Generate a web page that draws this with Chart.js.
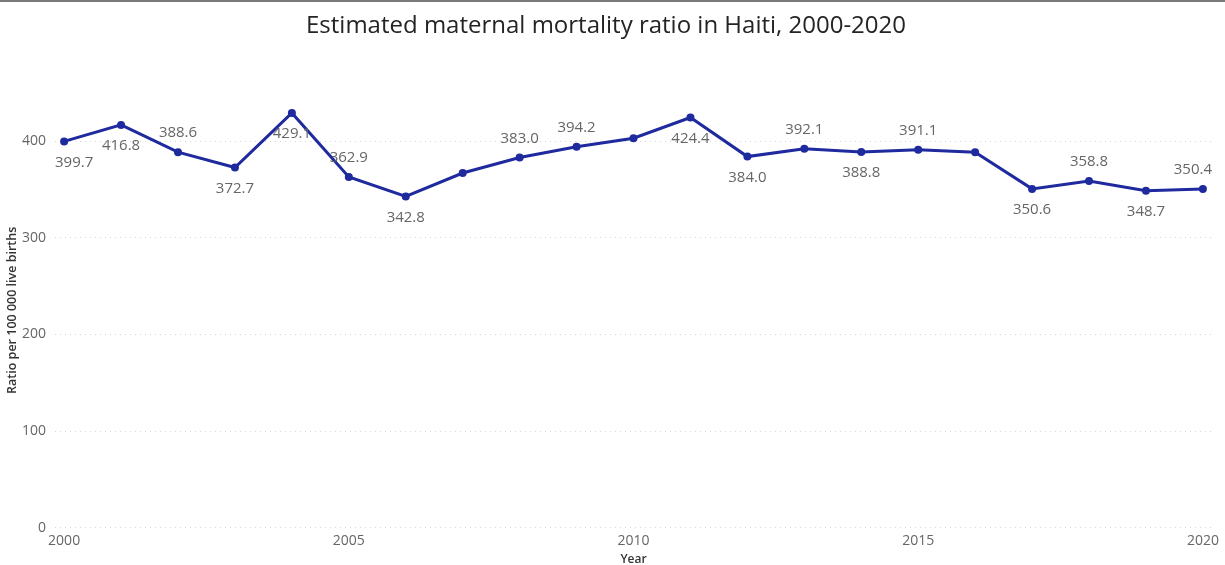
<!DOCTYPE html>
<html>
<head>
<meta charset="utf-8">
<script src="https://cdn.jsdelivr.net/npm/chart.js@4"></script>
<style>
  html, body { margin: 0; padding: 0; background: #fff; }
  #wrap { width: 1225px; height: 565px; position: relative; }
</style>
</head>
<body>
<div id="wrap"><canvas id="mmrChart"></canvas></div>
<script>
  // Data
  const years = [2000, 2001, 2002, 2003, 2004, 2005, 2006, 2007, 2008, 2009, 2010,
                 2011, 2012, 2013, 2014, 2015, 2016, 2017, 2018, 2019, 2020];
  const ratios = [399.7, 416.8, 388.6, 372.7, 429.1, 362.9, 342.8, 367.0, 383.0, 394.2, 403.0,
                  424.4, 384.0, 392.1, 388.8, 391.1, 388.4, 350.6, 358.8, 348.7, 350.4];
  // where each value label sits: 'above', 'below' or null (hidden)
  const labelPos = ['below', 'below', 'above', 'below', 'below', 'above', 'below', null, 'above', 'above', null,
                    'below', 'below', 'above', 'below', 'above', null, 'below', 'above', 'below', 'above'];
  const xTicks = [2000, 2005, 2010, 2015, 2020];
  const yTicks = [0, 100, 200, 300, 400];

  const FONT = "'Open Sans', 'Noto Sans', sans-serif";
  const LINE_COLOR = '#1f2a9e';

  // draws the value labels next to the points, kept inside the plot area
  const valueLabels = {
    id: 'valueLabels',
    afterDatasetsDraw(chart) {
      const ctx = chart.ctx;
      const area = chart.chartArea;
      const meta = chart.getDatasetMeta(0);
      ctx.save();
      ctx.font = '15px ' + FONT;
      ctx.fillStyle = '#666';
      ctx.textAlign = 'center';
      ctx.textBaseline = 'middle';
      meta.data.forEach((pt, i) => {
        const pos = labelPos[i];
        if (!pos) return;
        const text = ratios[i].toFixed(1);
        const half = ctx.measureText(text).width / 2;
        const x = Math.min(Math.max(pt.x, area.left + half), area.right - half);
        const dy = pos === 'above' ? -19 : 21;
        ctx.fillText(text, x, pt.y + dy);
      });
      ctx.restore();
    }
  };

  // thin grey rule across the top of the frame
  const topRule = {
    id: 'topRule',
    beforeDraw(chart) {
      const ctx = chart.ctx;
      ctx.save();
      ctx.fillStyle = '#7a7a7a';
      ctx.fillRect(0, 0, chart.width, 2);
      ctx.restore();
    }
  };

  new Chart(document.getElementById('mmrChart'), {
    type: 'line',
    data: {
      datasets: [{
        label: 'Ratio',
        data: years.map((y, i) => ({ x: y, y: ratios[i] })),
        borderColor: LINE_COLOR,
        backgroundColor: LINE_COLOR,
        borderWidth: 3,
        pointRadius: 4,
        pointBackgroundColor: LINE_COLOR,
        pointBorderWidth: 0,
        tension: 0
      }]
    },
    options: {
      responsive: true,
      maintainAspectRatio: false,
      animation: false,
      layout: { padding: { top: 4, right: 13, bottom: -2, left: 0 } },
      plugins: {
        legend: { display: false },
        tooltip: { enabled: false },
        title: {
          display: true,
          text: 'Estimated maternal mortality ratio in Haiti, 2000-2020',
          color: '#252423',
          font: { family: FONT, size: 24, weight: 'normal' },
          padding: { top: 8, bottom: 52 }
        }
      },
      scales: {
        x: {
          type: 'linear',
          min: 1999.84,
          max: 2020.16,
          afterBuildTicks: (scale) => { scale.ticks = xTicks.map(v => ({ value: v })); },
          grid: { display: false },
          border: { display: false },
          ticks: {
            color: '#666',
            font: { family: FONT, size: 14 },
            padding: -3,
            callback: (v) => String(v)
          },
          title: {
            display: true,
            text: 'Year',
            color: '#333',
            font: { family: FONT, size: 12, weight: '600' },
            padding: { top: 6, bottom: 0 }
          }
        },
        y: {
          min: 0,
          max: 450,
          afterBuildTicks: (scale) => { scale.ticks = yTicks.map(v => ({ value: v })); },
          grid: { color: '#d6d6d6', lineWidth: 1, drawTicks: false },
          border: { display: false, dash: [1, 4] },
          ticks: {
            color: '#666',
            font: { family: FONT, size: 14 },
            padding: 9
          },
          title: {
            display: true,
            text: 'Ratio per 100 000 live births',
            color: '#333',
            font: { family: FONT, size: 12.5, weight: '600' },
            padding: { top: 5, bottom: -7 }
          }
        }
      }
    },
    plugins: [valueLabels, topRule]
  });
</script>
</body>
</html>
